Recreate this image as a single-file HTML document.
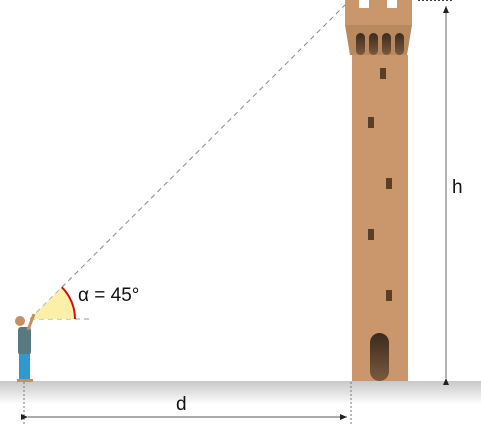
<!DOCTYPE html>
<html><head><meta charset="utf-8"><style>
body{margin:0;width:481px;height:426px;overflow:hidden;background:#fff;font-family:"Liberation Sans",sans-serif}
</style></head><body>
<svg width="481" height="426" viewBox="0 0 481 426">
<defs>
<linearGradient id="gr" x1="0" y1="0" x2="0" y2="1"><stop offset="0" stop-color="#c8c8c8"/><stop offset="1" stop-color="#fbfbfb"/></linearGradient>
<linearGradient id="win" x1="0" y1="0" x2="0" y2="1"><stop offset="0" stop-color="#3b2a1c"/><stop offset="1" stop-color="#7a5a3e"/></linearGradient>
<marker id="ar" markerWidth="8" markerHeight="8" refX="7" refY="4" orient="auto"><path d="M0,1 L7,4 L0,7 Z" fill="#222"/></marker>
</defs>
<rect x="0" y="381" width="481" height="22" fill="url(#gr)"/>
<line x1="30" y1="319" x2="350" y2="0" stroke="#888" stroke-dasharray="5,4"/>
<line x1="30" y1="319" x2="92" y2="319" stroke="#999" stroke-dasharray="5,4"/>
<path d="M30,319 L75,319 A45,45 0 0 0 61.8,287.2 Z" fill="#fbeea0" opacity="0.9"/>
<path d="M75,319 A45,45 0 0 0 61.8,287.2" fill="none" stroke="#d41010" stroke-width="2"/>
<text x="78" y="301" font-size="19" fill="#111">α = 45°</text>
<g>
<circle cx="20" cy="321" r="5" fill="#c89060"/>
<rect x="18" y="327" width="13" height="28" rx="3" fill="#567a80"/>
<line x1="28" y1="330" x2="34" y2="314" stroke="#c89060" stroke-width="3"/>
<rect x="19" y="354" width="11" height="26" fill="#2e9ad0"/>
<rect x="17" y="379" width="16" height="3" fill="#c89060"/>
</g>
<g>
<rect x="345" y="0" width="67" height="25" fill="#c9976b"/>
<rect x="359" y="0" width="10" height="8" fill="#fff"/><rect x="387" y="0" width="10" height="8" fill="#fff"/>
<path d="M345,25 L412,25 L407,55 L350,55 Z" fill="#b8885e"/>
<rect x="352" y="55" width="56" height="326" fill="#c9976b"/>
<rect x="356" y="33" width="9" height="22" rx="4.5" fill="url(#win)"/>
<rect x="369" y="33" width="9" height="22" rx="4.5" fill="url(#win)"/>
<rect x="382" y="33" width="9" height="22" rx="4.5" fill="url(#win)"/>
<rect x="395" y="33" width="9" height="22" rx="4.5" fill="url(#win)"/>
<rect x="380" y="68" width="6" height="11" fill="#5a3f28"/>
<rect x="368" y="117" width="6" height="11" fill="#5a3f28"/>
<rect x="386" y="178" width="6" height="11" fill="#5a3f28"/>
<rect x="368" y="229" width="6" height="11" fill="#5a3f28"/>
<rect x="386" y="290" width="6" height="11" fill="#5a3f28"/>
<rect x="370" y="333" width="19" height="48" rx="9.5" fill="url(#win)"/>
</g>
<line x1="446" y1="378" x2="446" y2="6" stroke="#666" marker-end="url(#ar)" marker-start="url(#ar)"/>
<line x1="418" y1="0.5" x2="452" y2="0.5" stroke="#444" stroke-dasharray="2,2"/>
<text x="452" y="193" font-size="19" fill="#111">h</text>
<line x1="24" y1="382" x2="24" y2="426" stroke="#777" stroke-dasharray="2,2"/>
<line x1="351" y1="382" x2="351" y2="426" stroke="#777" stroke-dasharray="2,2"/>
<line x1="28" y1="417" x2="347" y2="417" stroke="#555" marker-end="url(#ar)" marker-start="url(#ar)"/>
<text x="176" y="410" font-size="19" fill="#111">d</text>
</svg>
</body></html>
